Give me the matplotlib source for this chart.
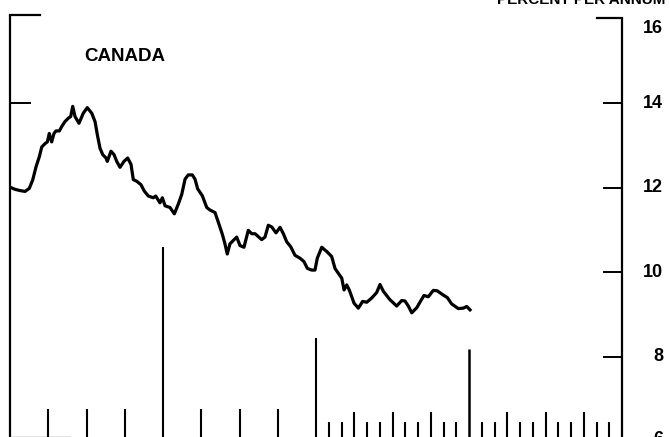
import numpy as np
import matplotlib
matplotlib.use("Agg")
import matplotlib.pyplot as plt

plt.rcParams['font.family'] = ['Liberation Sans', 'DejaVu Sans']

# months from left axis, percent per annum
months = [0.00, 0.39, 0.78, 1.18, 1.51, 1.78, 2.04, 2.30, 2.49, 2.75, 2.93, 3.08, 3.27, 3.45, 3.61,
          3.87, 4.05, 4.31, 4.57, 4.76, 4.92, 5.10, 5.41, 5.75, 6.06, 6.41, 6.67, 6.85, 7.06, 7.27,
          7.53, 7.63, 7.92, 8.16, 8.37, 8.63, 8.94, 9.23, 9.49, 9.67, 9.94, 10.27, 10.53, 10.85, 11.24,
          11.43, 11.76, 11.95, 12.16, 12.55, 12.89, 13.20, 13.47, 13.73, 13.98, 14.30, 14.51, 14.72, 15.08, 15.43,
          15.69, 16.08, 16.34, 16.65, 16.86, 17.04, 17.25, 17.51, 17.78, 18.04, 18.35, 18.69, 18.96, 19.22, 19.74,
          20.00, 20.26, 20.53, 20.86, 21.18, 21.44, 21.70, 22.02, 22.35, 22.75, 23.06, 23.32, 23.66, 23.92, 24.10,
          24.45, 24.84, 25.23, 25.49, 25.83, 26.02, 26.20, 26.41, 26.61, 26.98, 27.32, 27.66, 27.98, 28.37, 28.76,
          29.02, 29.28, 29.80, 30.33, 30.72, 30.98, 31.24, 31.51, 31.90, 32.21, 32.47, 32.81, 33.20, 33.51, 33.98,
          34.30, 34.64, 35.16, 35.55, 35.82, 36.08]
rates = [12.01, 11.96, 11.93, 11.91, 11.98, 12.18, 12.49, 12.73, 12.96, 13.04, 13.08, 13.28, 13.08, 13.28, 13.34,
         13.34, 13.44, 13.56, 13.64, 13.68, 13.92, 13.68, 13.52, 13.76, 13.89, 13.76, 13.56, 13.25, 12.93, 12.78,
         12.70, 12.62, 12.86, 12.78, 12.62, 12.48, 12.62, 12.70, 12.55, 12.19, 12.15, 12.07, 11.92, 11.80, 11.76,
         11.80, 11.64, 11.76, 11.57, 11.53, 11.38, 11.61, 11.84, 12.20, 12.30, 12.30, 12.20, 11.97, 11.81, 11.53,
         11.47, 11.41, 11.18, 10.90, 10.67, 10.43, 10.67, 10.75, 10.83, 10.63, 10.59, 10.99, 10.91, 10.91, 10.77,
         10.83, 11.11, 11.07, 10.93, 11.06, 10.91, 10.72, 10.60, 10.40, 10.33, 10.25, 10.09, 10.05, 10.05, 10.33,
         10.59, 10.49, 10.37, 10.09, 9.94, 9.86, 9.58, 9.70, 9.58, 9.27, 9.15, 9.31, 9.29, 9.39, 9.52,
         9.71, 9.55, 9.35, 9.20, 9.33, 9.32, 9.20, 9.04, 9.16, 9.32, 9.45, 9.42, 9.57, 9.56, 9.46,
         9.40, 9.25, 9.14, 9.15, 9.19, 9.11]

right_ticks = [14, 12, 10, 8]
right_labels = ['16', '14', '12', '10', '8', '6']
label_pos = [15.77, 14, 12, 10, 8, 6.05]

fig = plt.figure(figsize=(6.7, 4.37), dpi=100)
ax = fig.add_axes([10 / 670, -0.0101, 612 / 670, 0.968])
ax.set_xlim(0, 48)
ax.set_ylim(6, 16)
ax.set_axis_off()

k = 'black'
# frame pieces
ax.plot([0, 0], [5.5, 16.08], color=k, lw=1.6, clip_on=False, solid_capstyle='butt')
ax.plot([0, 2.35], [16.08, 16.08], color=k, lw=1.6, clip_on=False)
ax.plot([0, 1.57], [14, 14], color=k, lw=1.4)
ax.plot([48, 48], [5.5, 16], color=k, lw=1.6, clip_on=False, solid_capstyle='butt')
ax.plot([46.04, 48], [16, 16], color=k, lw=1.6, clip_on=False)
for t in right_ticks:
    ax.plot([46.6, 48], [t, t], color=k, lw=1.4)
ax.plot([0, 4.7], [6.1, 6.1], color='0.45', lw=1.0)

# time ticks along the bottom
for m in [3, 6, 9, 15, 18, 21]:
    ax.vlines(m, 5.5, 6.77, color=k, lw=1.5)
for m in range(25, 48):
    if m == 36:
        continue
    top = 6.70 if m % 3 == 0 else 6.46
    ax.vlines(m, 5.5, top, color=k, lw=1.5)
ax.vlines(12, 5.5, 10.60, color=k, lw=1.5)
ax.vlines(24, 5.5, 8.44, color=k, lw=1.5)
ax.vlines(36, 5.5, 8.18, color=k, lw=1.8)

ax.plot(months, rates, color=k, lw=2.3, solid_joinstyle='round')

for lab, y in zip(right_labels, label_pos):
    ax.text(1.067, y, lab, transform=ax.get_yaxis_transform(), ha='right', va='center',
            fontsize=13, fontweight='bold', clip_on=False)

ax.text(9.0, 15.1, 'CANADA', ha='center', va='center', fontsize=13.5, fontweight='bold')
fig.text(497 / 670, 1 - 4 / 437, 'PERCENT PER ANNUM', ha='left', va='baseline',
         fontsize=11, fontweight='bold')

fig.savefig('out.png', dpi=100)
